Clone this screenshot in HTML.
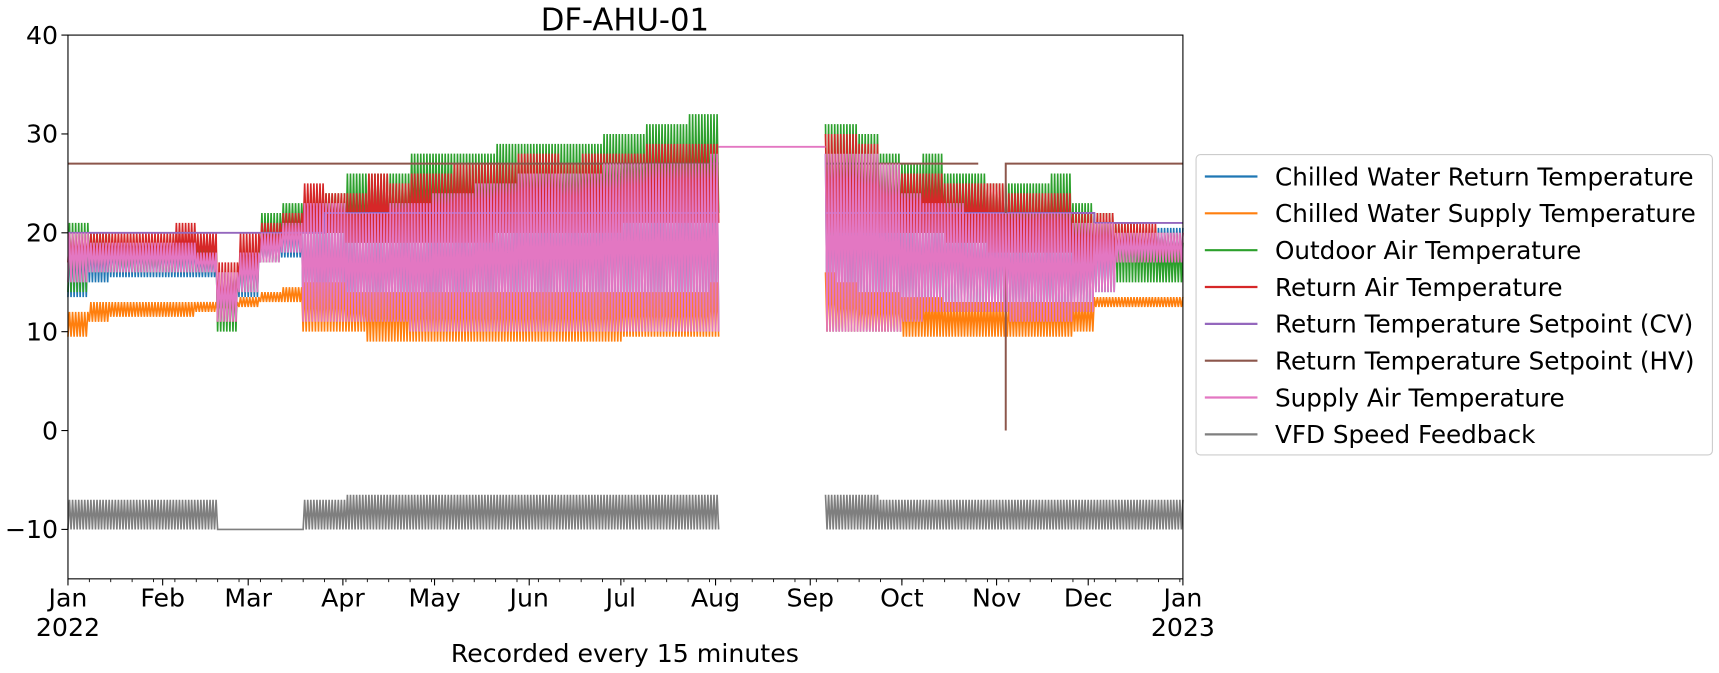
<!DOCTYPE html>
<html><head><meta charset="utf-8"><style>
body{margin:0;background:#fff;width:1719px;height:673px;overflow:hidden}
svg{display:block;font-family:"DejaVu Sans","Liberation Sans",sans-serif}
</style></head><body>
<svg id="chart" width="1719" height="673" viewBox="0 0 1719 673">
<g transform="scale(1.0963)">
<text x="570" y="28" font-size="28" text-anchor="middle">DF-AHU-01</text>
<g id="marks"></g>
<g id="axes"></g>
<text x="570" y="604" font-size="23" text-anchor="middle">Recorded every 15 minutes</text>
<g id="legend"></g>
</g>
</svg>
<script>
// weekly (7-day) low/high bands, 53 weeks; null = no data (Aug gap)
const N=null;
const pinkLow=[15,16,16,16,16,16,16,11,14,17,18, 11,11,11,11,11,10,10,10,10,10,10,10,10,10,10,10,10,10,10,10, N,N,N,N, 10,10,10,10,11,12,12,12,12,11,11,11,12,14,17,17,17,17];
const pinkHigh=[20,19,19,19,19,19,18,16,18,20,21, 23,23,22,22,23,23,24,24,25,25,26,26,26,26,27,27,27,27,27,28, N,N,N,N, 28,28,28,27,24,23,23,22,22,22,22,22,21,21,20,20,20,20];
const blueLow=[13.5,15,15.5,15.5,15.5,15.5,15.5,11,13.5,17,17.5, 11,11,11,11,11,10,10,10,10,10,10,10,10,10,10,10,10,10,10,10, N,N,N,N, 10,10,10,10,11,12,12,12,12,11,11,11,12,14,16.5,16.5,16.5,16.5];
const blueHigh=[19.5,19,19,19,19,19,18,16,18,20,21, 23,23,22,22,23,23,24,24,25,25,26,26,26,26,27,27,27,27,27,28, N,N,N,N, 28,28,28,27,24,23,23,22,22,22,22,22,21,21,20.5,20.5,20.5,20.5];
const redLow=[17,17,17,17,17,17,17,11,15,18,19, 20,20,19,19,19,19,19,19,19,20,20,20,20,20,20,21,21,21,21,21, N,N,N,N, 20,20,20,20,20,20,19,19,18,18,18,18,17,17,17,17,17,17];
const redHigh=[20,20,20,20,20,21,20,17,20,21,22, 25,24,24,26,25,26,26,27,27,27,28,28,27,28,28,28,29,29,29,29, N,N,N,N, 30,30,29,27,26,26,25,25,25,24,24,24,22,22,21,21,20,20];
const greenLow=[14,16,16,16,16,16,16,10,14,17,19, 20,20,19,19,19,20,20,20,20,20,20,20,20,21,21,22,22,22,22,22, N,N,N,N, 19,20,20,20,20,20,19,19,18,18,18,18,16,16,15,15,15,15];
const greenHigh=[21,20,19,19,19,20,19,16,19,22,23, 24,24,26,26,26,28,28,28,28,29,29,29,29,29,30,30,31,31,32,32, N,N,N,N, 31,31,30,28,27,28,26,26,25,25,25,26,23,22,21,20,19,19];
const orangeLow=[9.5,11,11.5,11.5,11.5,11.5,12,12,12.5,13,13, 10,10,10,9,9,9,9,9,9,9,9,9,9,9,9,9.5,9.5,9.5,9.5,9.5, N,N,N,N, 10,10,10,10,9.5,9.5,9.5,9.5,9.5,9.5,9.5,9.5,10,12.5,12.5,12.5,12.5,12.5];
const orangeHigh=[12,13,13,13,13,13,13,13,13.5,14,14.5, 15,15,14,14,14,14,14,14,14,14,14,14,14,14,14,14,14,14,14,15, N,N,N,N, 16,15,14,14,13.5,13.5,13,13,13,13,13,13,13,13.5,13.5,13.5,13.5,13.5];
const purpleVals=[20,20,20,20,20,20,20,20,20,20,20,20, 22,22,22,22,22,22,22,22,22,22,22,22,22,22,22,22,22,22,22, N,N,N,N, 22,22,22,22,22,22,22,22,22,22,22,22,22,21,21,21,21,21];
const grayLow=[-10,-10,-10,-10,-10,-10,-10,-10,-10,-10,-10, -10,-10,-10,-10,-10,-10,-10,-10,-10,-10,-10,-10,-10,-10,-10,-10,-10,-10,-10,-10, N,N,N,N, -10,-10,-10,-10,-10,-10,-10,-10,-10,-10,-10,-10,-10,-10,-10,-10,-10,-10];
const grayHigh=[-7,-7,-7,-7,-7,-7,-7,-10,-10,-10,-10, -7,-7,-6.5,-6.5,-6.5,-6.5,-6.5,-6.5,-6.5,-6.5,-6.5,-6.5,-6.5,-6.5,-6.5,-6.5,-6.5,-6.5,-6.5,-6.5, N,N,N,N, -6.5,-6.5,-6.5,-7,-7,-7,-7,-7,-7,-7,-7,-7,-7,-7,-7,-7,-7,-7];
const brownDays=[0,213,N,248,298,N,307,307,307,365];
const brownVals=[27,27,N,27,27,N,27,0,27,27];
const supplyGapDays=[213,248];
const supplyGapVals=[28.7,28.7];
const gapStart=213, gapEnd=248;
const yTicks=[-10,0,10,20,30,40];
const monthLabels=["Jan","Feb","Mar","Apr","May","Jun","Jul","Aug","Sep","Oct","Nov","Dec","Jan"];
const monthDays=[0,31,59,90,120,151,181,212,243,273,304,334,365];
const legendLabels=["Chilled Water Return Temperature","Chilled Water Supply Temperature","Outdoor Air Temperature","Return Air Temperature","Return Temperature Setpoint (CV)","Return Temperature Setpoint (HV)","Supply Air Temperature","VFD Speed Feedback"];
const legendColors=["#1f77b4","#ff7f0e","#2ca02c","#d62728","#9467bd","#8c564b","#e377c2","#7f7f7f"];

const X0=62,X1=1079,Y0=32,Y1=528;
const xS=d=>X0+d/365*(X1-X0);
const yS=v=>Y1-(v+15)/55*(Y1-Y0);
const NS="http://www.w3.org/2000/svg";
const marks=document.getElementById('marks');
const axes=document.getElementById('axes');
function mk(tag,attrs,parent){const e=document.createElementNS(NS,tag);for(const k in attrs)e.setAttribute(k,attrs[k]);parent.appendChild(e);return e;}

function band(lo,hi,color,name,step){
  let pts=[],segs=[],t=0;
  for(let d=0;d<=365;d+=step){
    const w=Math.min(52,Math.floor(d/7));
    if((d>gapStart&&d<gapEnd)||lo[w]==null){if(pts.length)segs.push(pts);pts=[];continue;}
    const v=(t++%2)?hi[w]:lo[w];
    pts.push(xS(d).toFixed(1)+','+yS(v).toFixed(1));
  }
  if(pts.length)segs.push(pts);
  segs.forEach(s=>{
    const p=mk('polyline',{points:s.join(' '),fill:'none',stroke:color,'stroke-width':1.5},marks);
    
    
  });
}
function stepLine(vals,color,name){
  let pts=[],segs=[];
  for(let w=0;w<53;w++){
    if(vals[w]==null){if(pts.length)segs.push(pts);pts=[];continue;}
    const a=Math.max(w*7, (w*7<gapEnd&&w*7+7>gapEnd)?gapEnd:w*7), b=Math.min(365,w*7+7, (w*7<gapStart&&w*7+7>gapStart)?gapStart:365);
    pts.push(xS(a)+','+yS(vals[w]));pts.push(xS(b)+','+yS(vals[w]));
  }
  if(pts.length)segs.push(pts);
  segs.forEach(s=>{
    const p=mk('polyline',{points:s.join(' '),fill:'none',stroke:color,'stroke-width':1.8},marks);
    
    
  });
}
function xyLine(days,vals,color,name){
  let pts=[],segs=[];
  for(let i=0;i<days.length;i++){
    if(days[i]==null){if(pts.length)segs.push(pts);pts=[];continue;}
    pts.push(xS(days[i])+','+yS(vals[i]));
  }
  if(pts.length)segs.push(pts);
  segs.forEach(s=>{
    const p=mk('polyline',{points:s.join(' '),fill:'none',stroke:color,'stroke-width':1.8},marks);
    
    
  });
}
band(blueLow,blueHigh,'#1f77b4','chilled-water-return-line',0.5);
band(orangeLow,orangeHigh,'#ff7f0e','chilled-water-supply-line',0.5);
band(greenLow,greenHigh,'#2ca02c','outdoor-air-line',0.5);
band(redLow,redHigh,'#d62728','return-air-line',0.5);
stepLine(purpleVals,'#9467bd','setpoint-cv-line');
xyLine(brownDays,brownVals,'#8c564b','setpoint-hv-line');
band(pinkLow,pinkHigh,'#e377c2','supply-air-line',0.5);
xyLine(supplyGapDays,supplyGapVals,'#e377c2','supply-air-gap-line');
band(grayLow,grayHigh,'#7f7f7f','vfd-speed-line',0.5);

const fr=mk('rect',{x:X0,y:Y0,width:X1-X0,height:Y1-Y0,fill:'none',stroke:'#000','stroke-width':1},axes);


yTicks.forEach(v=>{
  mk('line',{x1:X0-6,x2:X0,y1:yS(v),y2:yS(v),stroke:'#000','stroke-width':1},axes);
  const t=mk('text',{x:X0-9,y:yS(v)+8,'font-size':23,'text-anchor':'end'},axes);
  t.textContent=(v<0?'\u2212'+(-v):v);
  
  
});
for(let d=0;d<=365;d+=7){mk('line',{x1:xS(d),x2:xS(d),y1:Y1,y2:Y1+3,stroke:'#000','stroke-width':0.8},axes);}
monthDays.forEach((d,i)=>{
  mk('line',{x1:xS(d),x2:xS(d),y1:Y1,y2:Y1+6,stroke:'#000','stroke-width':1},axes);
  const t=mk('text',{x:xS(d),y:553,'font-size':23,'text-anchor':'middle'},axes);
  t.textContent=monthLabels[i];
  
  
});
[["2022",0],["2023",365]].forEach(([s,d])=>{
  const t=mk('text',{x:xS(d),y:580,'font-size':23,'text-anchor':'middle'},axes);
  t.textContent=s;
  
  
});
const lg=document.getElementById('legend');
const box=mk('rect',{x:1091,y:141,width:471,height:274,rx:4,fill:'#fff',stroke:'#ccc','stroke-width':1},lg);


legendLabels.forEach((l,i)=>{
  const y=161+i*33.6;
  const ln=mk('line',{x1:1099,x2:1147,y1:y,y2:y,stroke:legendColors[i],'stroke-width':2},lg);
  
  
  const t=mk('text',{x:1163,y:y+8,'font-size':22.5},lg);
  t.textContent=l;
  
  
});
</script>
</body></html>
